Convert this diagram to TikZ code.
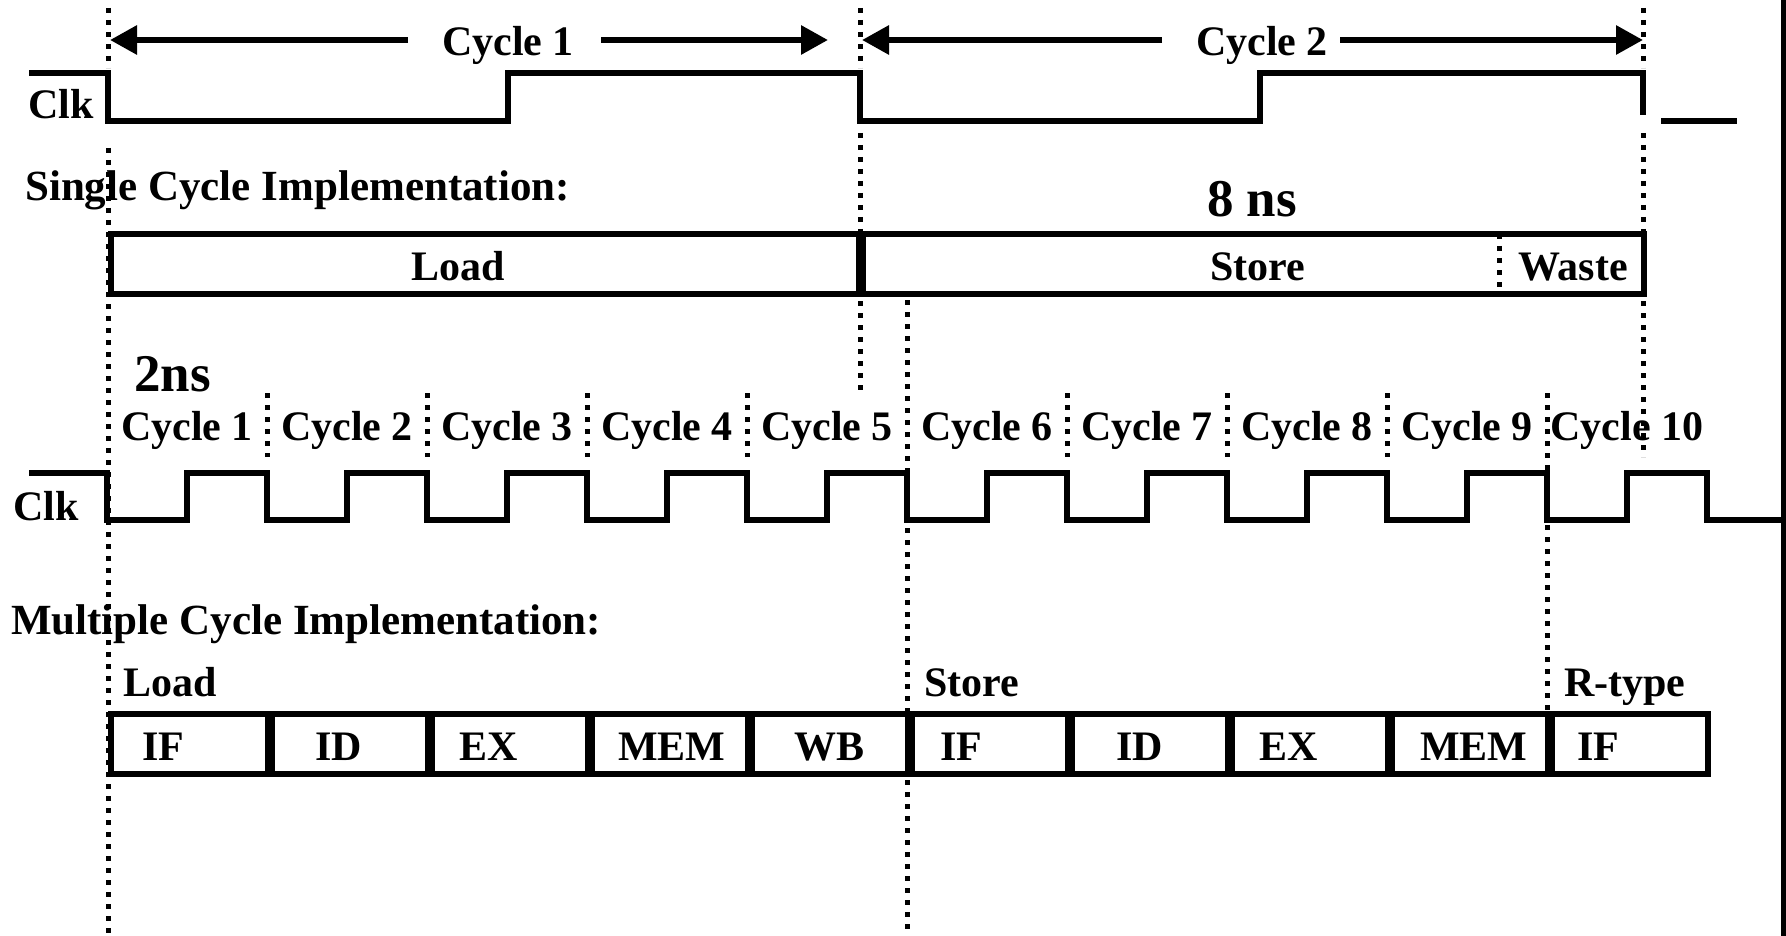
\documentclass[tikz,border=0pt]{standalone}
\usepackage{fontspec}
\setmainfont{Liberation Serif}
\usetikzlibrary{arrows.meta}
\begin{document}
\begin{tikzpicture}[x=1pt,y=-1pt,
  lbl/.style={inner sep=0pt, font=\fontsize{42}{50}\selectfont\bfseries},
  headlbl/.style={inner sep=0pt, font=\fontsize{43}{50}\selectfont\bfseries},
  biglbl/.style={inner sep=0pt, font=\fontsize{53}{60}\selectfont\bfseries},
  wave/.style={line width=6pt, line join=miter},
  guide/.style={line width=5pt, dash pattern=on 5pt off 7pt},
  frame/.style={line width=6pt},
  divider/.style={line width=10pt},
  span/.style={line width=6pt, -{Triangle[length=27pt,width=28pt]}},
]
\useasboundingbox (0,0) rectangle (1786,936);

% ---------- vertical timing guides ----------
\draw[guide] (108,8) -- (108,68);
\draw[guide] (108,148) -- (108,936);
\draw[guide] (860,8) -- (860,68);
\draw[guide] (860,133) -- (860,393);
\draw[guide] (1643,8) -- (1643,68);
\draw[guide] (1643,133) -- (1643,457);
\draw[guide] (907,300) -- (907,936);
\draw[guide] (1547,393) -- (1547,710);
\foreach \x in {267,427,587,747,1067,1227,1387}
  \draw[guide] (\x,393) -- (\x,457);

% ---------- single cycle clock ----------
\node[lbl, anchor=base west] (clkA) at (28,119) {Clk};
\draw[wave] (29,73) -- (108,73) -- (108,121) -- (508,121) -- (508,73)
  -- (860,73) -- (860,121) -- (1260,121) -- (1260,73) -- (1643,73) -- (1643,115);
\draw[wave] (1661,121) -- (1737,121);

% cycle spans
\node[lbl, anchor=base] (cyc1) at (508,56) {Cycle 1};
\node[lbl, anchor=base] (cyc2) at (1262,56) {Cycle 2};
\coordinate (c1a) at (408,40); \coordinate (c1l) at (110,40);
\coordinate (c1b) at (601,40); \coordinate (c1r) at (828,40);
\coordinate (c2a) at (1162,40); \coordinate (c2l) at (862,40);
\coordinate (c2b) at (1340,40); \coordinate (c2r) at (1643,40);
\draw[span] (c1a) -- (c1l);
\draw[span] (c1b) -- (c1r);
\draw[span] (c2a) -- (c2l);
\draw[span] (c2b) -- (c2r);

% ---------- single cycle implementation ----------
\node[headlbl, anchor=base west] (single) at (25,201) {Single Cycle Implementation:};
\node[biglbl, anchor=base west] (eightns) at (1207,217) {8 ns};
\draw[frame] (111,234) rectangle (1644,294);
\draw[divider] (861,234) -- (861,294);
\draw[guide] (1499,234) -- (1499,296);
\node[lbl, anchor=base] (sLoad) at (458,280) {Load};
\node[lbl, anchor=base] (sStore) at (1258,280) {Store};
\node[lbl, anchor=base] (sWaste) at (1573,280) {Waste};

% ---------- multiple cycle clock ----------
\node[biglbl, anchor=base west] (twons) at (134,391) {2ns};
\foreach \k in {1,...,10}
  \node[lbl, anchor=base] (mcyc\k) at ({27+160*\k},440) {Cycle \k};
\node[lbl, anchor=base west] (clkB) at (13,520) {Clk};
\draw[wave] (29,473)
  foreach \k in {0,...,9} { -- ({107+160*\k},473) -- ++(0,47) -- ++(80,0) -- ++(0,-47) }
  -- (1707,473) -- (1707,520) -- (1783,520);

% ---------- multiple cycle implementation ----------
\node[headlbl, anchor=base west] (multi) at (11,634) {Multiple Cycle Implementation:};
\node[lbl, anchor=base west] (mLoad) at (123,696) {Load};
\node[lbl, anchor=base west] (mStore) at (924,696) {Store};
\node[lbl, anchor=base west] (mRtype) at (1564,696) {R-type};
\draw[frame] (111,714) rectangle (1708,774);
\foreach \k in {1,...,9}
  \draw[divider] ({110+160*\k},714) -- ++(0,60);
\node[lbl, anchor=base west] (if1)  at (142,760) {IF};
\node[lbl, anchor=base west] (id1)  at (315,760) {ID};
\node[lbl, anchor=base west] (ex1)  at (459,760) {EX};
\node[lbl, anchor=base west] (mem1) at (618,760) {MEM};
\node[lbl, anchor=base west] (wb1)  at (794,760) {WB};
\node[lbl, anchor=base west] (if2)  at (940,760) {IF};
\node[lbl, anchor=base west] (id2)  at (1116,760) {ID};
\node[lbl, anchor=base west] (ex2)  at (1259,760) {EX};
\node[lbl, anchor=base west] (mem2) at (1420,760) {MEM};
\node[lbl, anchor=base west] (if3)  at (1577,760) {IF};

% right edge rule
\draw[line width=5pt] (1783,0) -- (1783,936);
\end{tikzpicture}
\end{document}
